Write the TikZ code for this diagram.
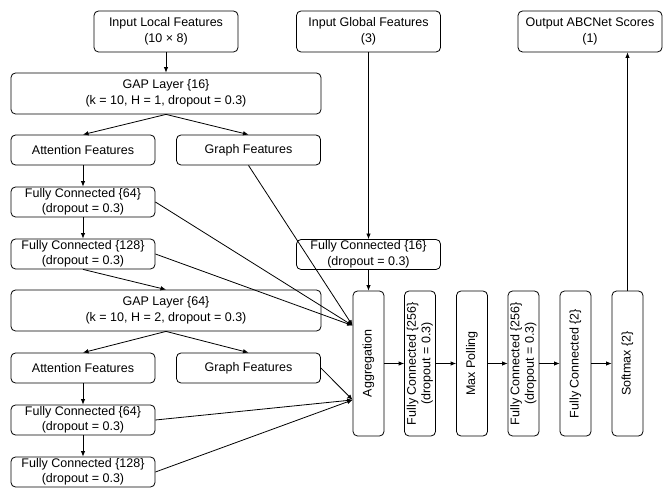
\documentclass[tikz,border=0pt]{standalone}
\usepackage{fontspec}
\setmainfont{Liberation Sans}
\usetikzlibrary{arrows.meta,calc}
\begin{document}
\begin{tikzpicture}[x=1pt,y=-1pt,
  every node/.style={font=\fontsize{12.5}{15.5}\selectfont},
  hbox/.style={draw,rounded corners=4.5pt,line width=0.8pt,align=center,inner sep=0pt,minimum width=144pt,minimum height=30pt},
  tall/.style={hbox,minimum height=41pt},
  wide/.style={tall,minimum width=310pt},
  vbox/.style={draw,rounded corners=4.5pt,line width=0.8pt,inner sep=0pt,minimum width=31pt,minimum height=145pt},
  conn/.style={draw,line width=0.8pt,-{Latex[length=5.5pt,width=4.5pt]}}]
\useasboundingbox (0,0) rectangle (664,502);
% top inputs/outputs
\node[tall] (inloc) at (166,31.5) {Input Local Features\\(10 × 8)};
\node[tall] (inglob) at (368.5,31.5) {Input Global Features\\(3)};
\node[tall] (out) at (590,31.5) {Output ABCNet Scores\\(1)};
% first branch
\node[wide] (gap1) at (166,93.5) {GAP Layer \{16\}\\(k = 10, H = 1, dropout = 0.3)};
\node[hbox] (att1) at (83,150) {Attention Features};
\node[hbox] (gr1) at (248.5,150) {Graph Features};
\node[hbox] (fc64a) at (83,202) {Fully Connected \{64\}\\(dropout = 0.3)};
\node[hbox] (fc128a) at (83,254) {Fully Connected \{128\}\\(dropout = 0.3)};
\node[hbox] (fc16) at (368.5,254.5) {Fully Connected \{16\}\\(dropout = 0.3)};
% second branch
\node[wide] (gap2) at (166,310.5) {GAP Layer \{64\}\\(k = 10, H = 2, dropout = 0.3)};
\node[hbox] (att2) at (83,368) {Attention Features};
\node[hbox] (gr2) at (248.5,368) {Graph Features};
\node[hbox] (fc64b) at (83,420) {Fully Connected \{64\}\\(dropout = 0.3)};
\node[hbox] (fc128b) at (83,472) {Fully Connected \{128\}\\(dropout = 0.3)};
% vertical chain
\node[vbox] (agg) at (368.5,363.5) {\rotatebox{90}{Aggregation}};
\node[vbox] (fc256a) at (420,363.5) {\rotatebox{90}{\begin{tabular}{@{}c@{}}Fully Connected \{256\}\\[-1pt](dropout = 0.3)\end{tabular}}};
\node[vbox] (maxp) at (472,363.5) {\rotatebox{90}{Max Polling}};
\node[vbox] (fc256b) at (523.5,363.5) {\rotatebox{90}{\begin{tabular}{@{}c@{}}Fully Connected \{256\}\\[-1pt](dropout = 0.3)\end{tabular}}};
\node[vbox] (fc2) at (575.5,363.5) {\rotatebox{90}{Fully Connected \{2\}}};
\node[vbox] (soft) at (627.5,363.5) {\rotatebox{90}{Softmax \{2\}}};
\coordinate (aggA) at ($(agg.north west)!0.24!(agg.south west)$);
\coordinate (aggB) at ($(agg.north west)!0.75!(agg.south west)$);
% connectors
\path[conn] (inloc) -- (gap1);
\path[conn] (inglob) -- (fc16);
\path[conn] (gap1.south) -- (att1.north);
\path[conn] (gap1.south) -- (gr1.north);
\path[conn] (att1) -- (fc64a);
\path[conn] (fc64a) -- (fc128a);
\path[conn] (fc128a.south) -- (gap2.north);
\path[conn] (fc64a.east) -- (aggA);
\path[conn] (fc128a.east) -- (aggA);
\path[conn] (gr1.south) -- (aggA);
\path[conn] (fc16) -- (agg);
\path[conn] (gap2.south) -- (att2.north);
\path[conn] (gap2.south) -- (gr2.north);
\path[conn] (att2) -- (fc64b);
\path[conn] (fc64b) -- (fc128b);
\path[conn] (gr2.east) -- (aggB);
\path[conn] (fc64b.east) -- (aggB);
\path[conn] (fc128b.east) -- (aggB);
\path[conn] (agg) -- (fc256a);
\path[conn] (fc256a) -- (maxp);
\path[conn] (maxp) -- (fc256b);
\path[conn] (fc256b) -- (fc2);
\path[conn] (fc2) -- (soft);
\path[conn] (soft.north) -- (soft.north |- out.south);
\end{tikzpicture}
\end{document}
